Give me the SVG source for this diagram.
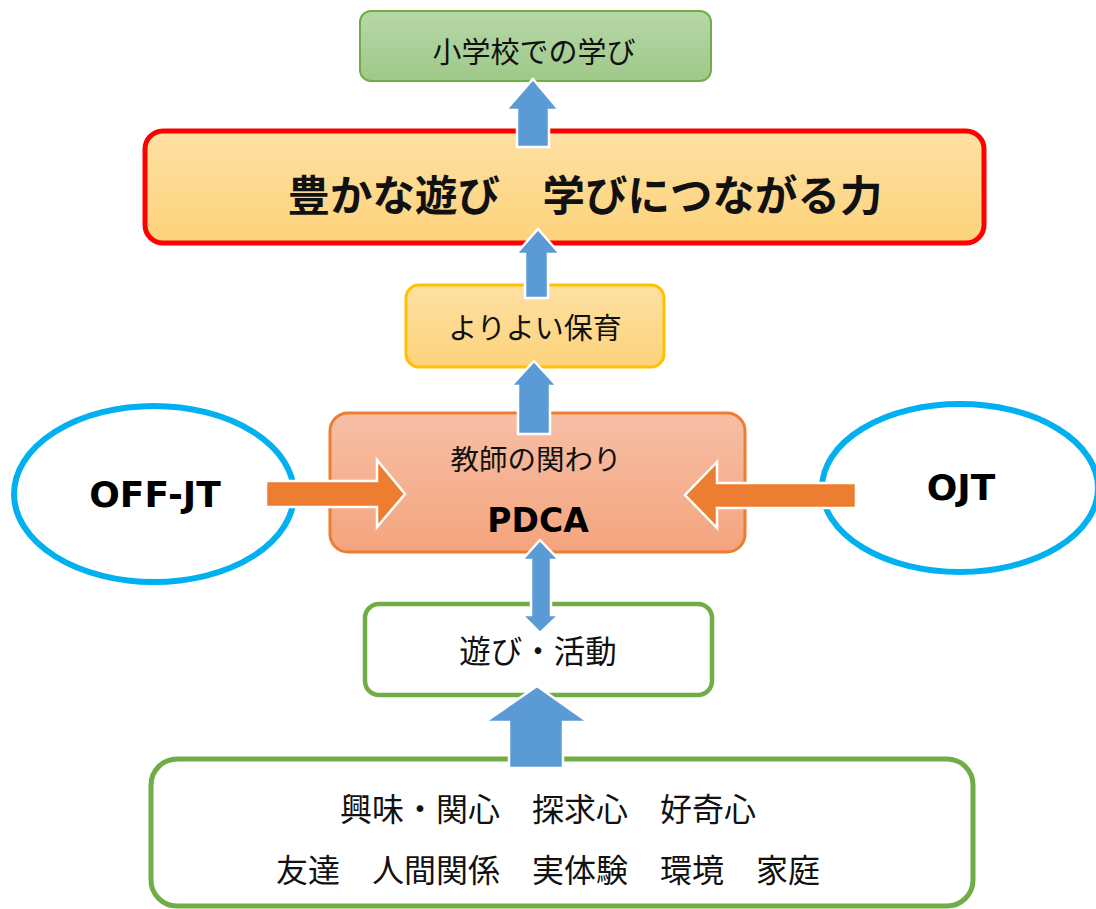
<svg xmlns="http://www.w3.org/2000/svg" width="1096" height="909" viewBox="0 0 1096 909">
<defs>
<linearGradient id="gGreen" x1="0" y1="0" x2="0" y2="1"><stop offset="0" stop-color="#b7d7a9"/><stop offset="1" stop-color="#9ec988"/></linearGradient>
<linearGradient id="gGold" x1="0" y1="0" x2="0" y2="1"><stop offset="0" stop-color="#fee0a3"/><stop offset="1" stop-color="#fdd37b"/></linearGradient>
<linearGradient id="gOrange" x1="0" y1="0" x2="0" y2="1"><stop offset="0" stop-color="#f7bfa6"/><stop offset="1" stop-color="#f4a47d"/></linearGradient>
</defs>
<style>
.jp{font-family:"Noto Sans CJK JP","Noto Sans",sans-serif;fill:#111;text-anchor:middle}
.lat{font-family:"DejaVu Sans","Noto Sans",sans-serif;font-weight:bold;fill:#000;text-anchor:middle}
.blue{fill:#5b9bd5;stroke:#fff;stroke-width:2.5;stroke-linejoin:miter}
.orng{fill:#ed7d31;stroke:#fff;stroke-width:2.5;stroke-linejoin:miter}
.ell{fill:#fff;stroke:#00b0f0;stroke-width:6}
</style>
<g id="node-school">
<rect x="360" y="11" width="351" height="70" rx="11" fill="url(#gGreen)" stroke="#70ad47" stroke-width="2"/>
<text class="jp" x="534" y="63" font-size="29">小学校での学び</text>
</g>
<g id="node-power">
<rect x="145" y="131" width="839" height="112" rx="18" fill="url(#gGold)" stroke="#ff0000" stroke-width="5"/>
<text class="jp" x="585" y="211" font-size="42.5" font-weight="bold" fill="#000">豊かな遊び　学びにつながる力</text>
</g>
<g id="node-hoiku">
<rect x="406" y="285" width="258" height="82" rx="13" fill="url(#gGold)" stroke="#ffc000" stroke-width="3"/>
<text class="jp" x="535" y="339" font-size="29">よりよい保育</text>
</g>
<g id="node-teacher">
<rect x="330" y="413" width="415" height="139" rx="18" fill="url(#gOrange)" stroke="#ed7d31" stroke-width="3"/>
<text class="jp" x="536" y="470" font-size="28.5">教師の関わり</text>
<text class="lat" x="538" y="532" font-size="33">PDCA</text>
</g>
<g id="node-offjt">
<ellipse class="ell" cx="154" cy="494" rx="140" ry="88"/>
<text class="lat" x="155" y="507" font-size="36">OFF-JT</text>
</g>
<g id="node-ojt">
<ellipse class="ell" cx="960" cy="488" rx="138" ry="84"/>
<text class="lat" x="961" y="500" font-size="36">OJT</text>
</g>
<g id="node-play">
<rect x="365" y="604" width="347" height="91" rx="14" fill="#fff" stroke="#70ad47" stroke-width="4.5"/>
<text class="jp" x="538" y="663" font-size="31.5">遊び・活動</text>
</g>
<g id="node-base">
<rect x="151" y="759" width="822" height="147" rx="26" fill="#fff" stroke="#70ad47" stroke-width="5"/>
<text class="jp" x="548" y="821" font-size="32">興味・関心　探求心　好奇心</text>
<text class="jp" x="548" y="882" font-size="32">友達　人間関係　実体験　環境　家庭</text>
</g>
<g id="connectors">
<polygon class="blue" points="533,79 559,110 549,110 549,147 517,147 517,110 506,110"/>
<polygon class="blue" points="538,229 560,254 548,254 548,298 525,298 525,254 516,254"/>
<polygon class="blue" points="534,361 557,386 550,386 550,434 518,434 518,386 511,386"/>
<polygon class="blue" points="540,540 559,560 551,560 551,615 559,615 540,633 522,615 531,615 531,560 522,560"/>
<polygon class="blue" points="537,686 588,722 563,722 563,768 509,768 509,722 485,722"/>
<polygon class="orng" points="266,481 377,481 377,460 405,494 377,527 377,507 266,507"/>
<polygon class="orng" points="856,483 717,483 717,462 685,495 717,528 717,508 856,508"/>
</g>
</svg>
